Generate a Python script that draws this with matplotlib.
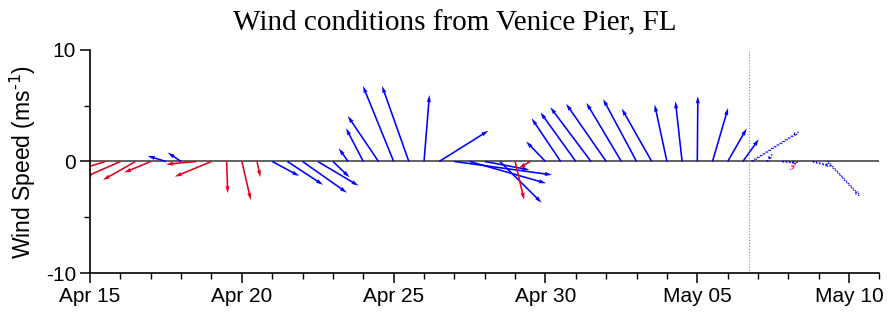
import pandas as pd
import numpy as np
import matplotlib
matplotlib.use("Agg")
import matplotlib.pyplot as plt
import matplotlib.dates as mdates

# Observations, every 12 h from Apr 15 12:00
obs_time = pd.date_range("2013-04-15 12:00", periods=43, freq="12h")
obs_u = [-2.06, -3.2, -2.93, -2.39, -1.64, -1.2, -2.7, -3.3, 0.09, 0.8,
         0.3, 2.42, 3.19, 3.97, 3.65, 1.49, -0.84, -1.55, -2.75, -2.75,
         -2.4, 0.48, 4.4, 8.75, 6.86, 4.0, 3.74, 0.81, -1.05, -1.73,
         -2.6, -3.17, -3.65, -3.59, -3.14, -3.0, -2.69, -1.1, -0.6, 0.05,
         1.4, 1.7, 1.43]
obs_v = [-0.65, -1.4, -1.66, -0.99, 0.5, 0.8, -0.25, -1.36, -2.85, -3.45,
         -1.42, -1.3, -2.09, -2.8, -2.17, -1.42, 1.18, 2.98, 4.08, 6.77,
         6.77, 5.96, 2.76, -1.2, -1.95, -0.75, -3.7, -3.44, -0.6, 1.79,
         3.87, 4.4, 4.87, 5.17, 5.26, 5.6, 4.74, 5.1, 5.4, 5.85,
         4.8, 2.95, 2.0]
obs_red = [1, 1, 1, 1, 0, 0, 1, 1, 1, 1,
           1, 0, 0, 0, 0, 0, 0, 0, 0, 0,
           0, 0, 0, 0, 0, 0, 0, 1, 1, 0,
           0, 0, 0, 0, 0, 0, 0, 0, 0, 0,
           0, 0, 0]

# Forecast
fc_time = pd.to_datetime(["2013-05-06 19:00", "2013-05-07 07:00", "2013-05-07 19:00",
                          "2013-05-08 07:00", "2013-05-08 19:00", "2013-05-09 07:00"])
fc_u = [4.18, 0.45, 1.35, -0.6, 1.6, 2.87]
fc_v = [2.62, 0.6, -0.1, -0.75, -0.4, -3.08]
fc_red = [0, 0, 0, 1, 0, 0]

now_time = pd.Timestamp("2013-05-06 16:30")

RED = "#e5001c"
BLUE = "#0000ff"

plt.rcParams["axes.unicode_minus"] = False
plt.rcParams["mathtext.default"] = "regular"

fig = plt.figure(figsize=(8.88, 3.18), dpi=100)
ax = fig.add_axes([0.1014, 0.1415, 0.8890, 0.7013])

ax.axhline(0, color="#555555", lw=1.3, zorder=1)
ax.axvline(mdates.date2num(now_time), color="#888888", lw=0.8, ls=":", zorder=1)

xo = mdates.date2num(obs_time)
cols = [RED if r else BLUE for r in obs_red]
ax.quiver(xo, np.zeros(len(xo)), obs_u, obs_v, color=cols,
          angles="uv", scale_units="y", scale=1, units="dots",
          width=1.6, headwidth=2.6, headlength=4.5, headaxislength=4.2,
          pivot="tail", zorder=2)

xf = mdates.date2num(fc_time)
fcols = [RED if r else BLUE for r in fc_red]
ax.quiver(xf, np.zeros(len(xf)), fc_u, fc_v, facecolor="none", edgecolors=fcols,
          linestyles=":", linewidths=0.9,
          angles="uv", scale_units="y", scale=1, units="dots",
          width=0.8, headwidth=4, headlength=6, headaxislength=5,
          pivot="tail", zorder=2)

ax.set_xlim(mdates.date2num(pd.Timestamp("2013-04-15")),
            mdates.date2num(pd.Timestamp("2013-05-11")))
ax.set_ylim(-10, 10)
ax.set_yticks([-10, 0, 10])
ax.set_yticks([-5, 5], minor=True)
ax.xaxis.set_major_locator(mdates.DayLocator(bymonthday=[5, 10, 15, 20, 25, 30]))
ax.xaxis.set_minor_locator(mdates.DayLocator())
ax.xaxis.set_major_formatter(mdates.DateFormatter("%b %d"))

for s in ["top", "right"]:
    ax.spines[s].set_visible(False)
for s in ["left", "bottom"]:
    ax.spines[s].set_linewidth(1.2)
ax.tick_params(which="major", direction="out", length=7, width=1.1,
               labelsize=15, pad=3)
ax.tick_params(which="minor", direction="out", length=4, width=1.0)
for lab in ax.get_xticklabels() + ax.get_yticklabels():
    lab.set_fontfamily("Liberation Sans")

ax.set_ylabel(r"Wind Speed (ms$^{\text{-1}}$)", fontsize=16.5,
              fontfamily="Liberation Sans", labelpad=6)

fig.text(455 / 888, 0.925, "Wind conditions from Venice Pier, FL",
         ha="center", va="center", fontsize=21, fontfamily="Liberation Serif")

fig.savefig("out.png", dpi=100)
